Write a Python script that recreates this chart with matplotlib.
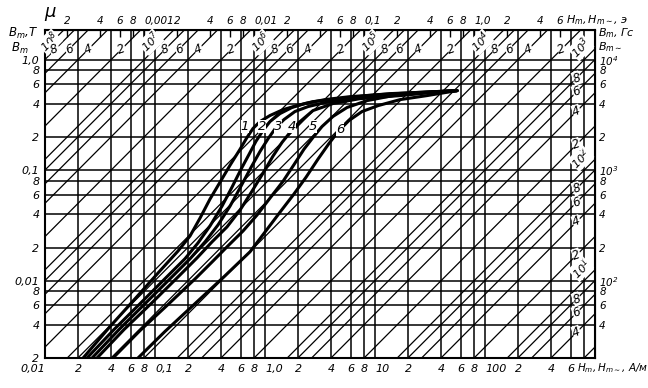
import numpy as np
import matplotlib.pyplot as plt

plt.rcParams["font.family"] = ["Liberation Sans Narrow", "DejaVu Sans"]
plt.rcParams["font.style"] = "italic"
plt.rcParams["mathtext.fontset"] = "custom"
plt.rcParams["mathtext.it"] = "Liberation Sans Narrow:italic"
plt.rcParams["mathtext.rm"] = "Liberation Sans Narrow:italic"

MU0 = 4e-7 * np.pi  # B = mu * MU0 * H

# magnetisation curves: H in A/m, B in T
h1 = [0.0222, 0.0390, 0.0672, 0.111, 0.162, 0.208, 0.257, 0.316, 0.390, 0.481, 0.593, 0.686,
      0.778, 0.901, 1.11, 1.46, 1.95, 2.73, 3.90, 5.93, 8.46, 13.7, 22.2, 35.1, 55.7]
b1 = [0.0020, 0.00385, 0.00703, 0.0123, 0.0186, 0.0254, 0.0370, 0.0548, 0.0780, 0.111, 0.155, 0.198,
      0.239, 0.276, 0.313, 0.354, 0.385, 0.418, 0.436, 0.455, 0.474, 0.494, 0.504, 0.515, 0.526]
h2 = [0.0241, 0.0424, 0.0746, 0.131, 0.187, 0.246, 0.316, 0.407, 0.501, 0.605, 0.715, 0.828,
      0.959, 1.11, 1.37, 1.76, 2.31, 3.51, 5.93, 11.1, 22.2, 55.7]
b2 = [0.0020, 0.00362, 0.00633, 0.0111, 0.0158, 0.0220, 0.0313, 0.0474, 0.0703, 0.102, 0.139, 0.183,
      0.229, 0.276, 0.326, 0.370, 0.402, 0.436, 0.464, 0.484, 0.504, 0.526]
h3 = [0.0268, 0.0471, 0.0828, 0.146, 0.208, 0.285, 0.374, 0.481, 0.605, 0.746, 0.901, 1.07,
      1.26, 1.49, 1.87, 2.46, 3.51, 5.93, 12.3, 25.7, 55.7]
b3 = [0.0020, 0.00362, 0.00633, 0.0111, 0.0158, 0.0225, 0.0320, 0.0474, 0.0718, 0.106, 0.148, 0.194,
      0.244, 0.288, 0.340, 0.377, 0.410, 0.445, 0.474, 0.504, 0.526]
h4 = [0.0297, 0.0523, 0.0939, 0.169, 0.241, 0.330, 0.451, 0.593, 0.762, 0.959, 1.18, 1.43,
      1.69, 2.04, 2.73, 4.15, 7.31, 16.9, 31.6, 55.7]
b4 = [0.0020, 0.00362, 0.00633, 0.0113, 0.0161, 0.0225, 0.0307, 0.0436, 0.0647, 0.0940, 0.134, 0.179,
      0.220, 0.271, 0.347, 0.402, 0.445, 0.474, 0.504, 0.526]
h5 = [0.0415, 0.0731, 0.131, 0.236, 0.337, 0.461, 0.631, 0.846, 1.11, 1.46, 1.84, 2.26,
      2.73, 3.30, 4.15, 5.57, 8.46, 14.6, 28.5, 55.7]
b5 = [0.0020, 0.00354, 0.00608, 0.0106, 0.0151, 0.0207, 0.0282, 0.0393, 0.0560, 0.0796, 0.113, 0.155,
      0.198, 0.249, 0.307, 0.370, 0.427, 0.474, 0.504, 0.526]
h6 = [0.0701, 0.123, 0.231, 0.433, 0.731, 1.00, 1.37, 1.80, 2.36, 3.03, 3.82, 4.71,
      5.80, 7.62, 10.7, 16.9, 29.7, 55.7]
b6 = [0.0020, 0.00347, 0.00621, 0.0111, 0.0183, 0.0276, 0.0418, 0.0595, 0.0865, 0.126, 0.175, 0.229,
      0.282, 0.340, 0.385, 0.436, 0.474, 0.526]

curve_names = ["1", "2", "3", "4", "5", "6"]
name_h = [0.658, 0.939, 1.313, 1.760, 2.732, 4.806]
name_b = [0.249, 0.249, 0.249, 0.249, 0.249, 0.234]

# grid: A/m verticals, T horizontals, constant-mu diagonals
h_grid = [0.02, 0.04, 0.06, 0.08, 0.1, 0.2, 0.4, 0.6, 0.8, 1, 2, 4, 6, 8, 10,
          20, 40, 60, 80, 100, 200, 400, 600, 800]
b_grid = [0.004, 0.006, 0.008, 0.01, 0.02, 0.04, 0.06, 0.08, 0.1, 0.2, 0.4, 0.6, 0.8, 1.0]
mu_mant = [1, 2, 4, 6, 8]
mu_exp = [0, 1, 2, 3, 4, 5, 6, 7, 8]

h_ticks = [0.01, 0.02, 0.04, 0.06, 0.08, 0.1, 0.2, 0.4, 0.6, 0.8, 1, 2, 4, 6, 8,
           10, 20, 40, 60, 80, 100, 200, 400, 600]
h_labels = ["0,01", "2", "4", "6", "8", "0,1", "2", "4", "6", "8", "1,0", "2", "4", "6", "8",
            "10", "2", "4", "6", "8", "100", "2", "4", "6"]
oe_ticks = [2e-4, 4e-4, 6e-4, 8e-4, 1e-3, 2e-3, 4e-3, 6e-3, 8e-3, 0.01, 0.02, 0.04, 0.06, 0.08,
            0.1, 0.2, 0.4, 0.6, 0.8, 1.0, 2, 4, 6]
oe_labels = ["2", "4", "6", "8", "0,001", "2", "4", "6", "8", "0,01", "2", "4", "6", "8",
             "0,1", "2", "4", "6", "8", "1,0", "2", "4", "6"]
b_ticks = [0.002, 0.004, 0.006, 0.008, 0.01, 0.02, 0.04, 0.06, 0.08, 0.1, 0.2, 0.4, 0.6, 0.8, 1.0]
b_labels = ["2", "4", "6", "8", "0,01", "2", "4", "6", "8", "0,1", "2", "4", "6", "8", "1,0"]
gs_ticks = [40, 60, 80, 100, 200, 400, 600, 800, 1000, 2000, 4000, 6000, 8000, 10000]
gs_labels = ["4", "6", "8", "$10^2$", "2", "4", "6", "8", "$10^3$", "2", "4", "6", "8", "$10^4$"]

fig = plt.figure(figsize=(6.48, 3.88), dpi=100)
ax = fig.add_axes([45 / 648, 30 / 388, 550 / 648, 328 / 388])
ax.set_xscale("log")
ax.set_yscale("log")
ax.set_xlim(0.01, 1000)
ax.set_ylim(0.002, 1.86)

for h in h_grid:
    ax.axvline(h, color="black", lw=1.1)
for b in b_grid:
    ax.axhline(b, color="black", lw=1.1)

hh = np.array([1e-4, 1e5])
for e in mu_exp:
    for m in mu_mant:
        mu = m * 10.0 ** e
        ax.plot(hh, mu * MU0 * hh, color="black", lw=0.9)
        if mu >= 2000:
            # labels along the top strip
            hl = max(1.25 / (mu * MU0), 0.012)
            bl = 1.25
            off = (-3, 5) if m == 1 else (0, 0)
        else:
            hl = 680.0
            bl = mu * MU0 * hl
            off = (3, 14) if m == 1 else (0, 0)
        if bl < 0.003:
            continue
        txt = f"$10^{e}$" if m == 1 else str(m)
        ax.annotate(txt, (hl, bl), xytext=off, textcoords="offset points",
                    ha="center", va="center", fontsize=8 if m == 1 else 8.5,
                    rotation=45 if m == 1 else 20,
                    bbox=dict(facecolor="white", edgecolor="none", pad=0.2))

for h, b in [(h1, b1), (h2, b2), (h3, b3), (h4, b4), (h5, b5), (h6, b6)]:
    ax.plot(h, b, color="black", lw=2.2, solid_joinstyle="round", solid_capstyle="round")
for name, h, b in zip(curve_names, name_h, name_b):
    ax.text(h, b, name, ha="center", va="center", fontsize=9.5,
            bbox=dict(facecolor="white", edgecolor="none", pad=0.2))

for sp in ax.spines.values():
    sp.set_linewidth(1.5)

ax.set_xticks(h_ticks)
ax.set_xticklabels(h_labels)
ax.set_yticks(b_ticks)
ax.set_yticklabels(b_labels)
ax.minorticks_off()
ax.tick_params(length=0, labelsize=8, pad=4)
for lab, s in zip(ax.get_xticklabels(), h_labels):
    if s == "0,01":
        lab.set_ha("right")
    elif "," in s or s in ("10", "100"):
        lab.set_ha("left")

top = ax.secondary_xaxis("top", functions=(lambda h: h * 4e-3 * np.pi, lambda o: o / (4e-3 * np.pi)))
top.set_xticks(oe_ticks)
top.set_xticklabels(oe_labels)
top.minorticks_off()
top.tick_params(direction="in", length=5, width=1, labelsize=7.5, pad=3)
for lab, s in zip(top.get_xticklabels(), oe_labels):
    if "," in s:
        lab.set_ha("left")

right = ax.secondary_yaxis("right", functions=(lambda b: b * 1e4, lambda g: g / 1e4))
right.set_yticks(gs_ticks)
right.set_yticklabels(gs_labels)
right.minorticks_off()
right.tick_params(length=0, labelsize=7.5, pad=3)
for lab in right.get_yticklabels():
    lab.set_va("center_baseline")

ax.text(0.968, -0.031, r"$H_m, H_{m\sim}$, A/м", transform=ax.transAxes,
        ha="left", va="center", fontsize=7.5)
ax.text(0.948, 1.03, r"$H_m, H_{m\sim}$, э", transform=ax.transAxes,
        ha="left", va="center", fontsize=8)
ax.text(1.005, 0.99, r"$B_m$, Гс", transform=ax.transAxes, ha="left", va="center", fontsize=8)
ax.text(1.005, 0.948, r"$B_{m\sim}$", transform=ax.transAxes, ha="left", va="center", fontsize=8)
ax.text(-0.012, 0.99, r"$B_m$,T", transform=ax.transAxes, ha="right", va="center", fontsize=8.5)
ax.text(-0.03, 0.945, r"$B_m$", transform=ax.transAxes, ha="right", va="center", fontsize=8.5)
ax.text(0.01, 1.05, r"$\mu$", transform=ax.transAxes, ha="center", va="center", fontsize=13)

fig.savefig("out.png", dpi=100)
